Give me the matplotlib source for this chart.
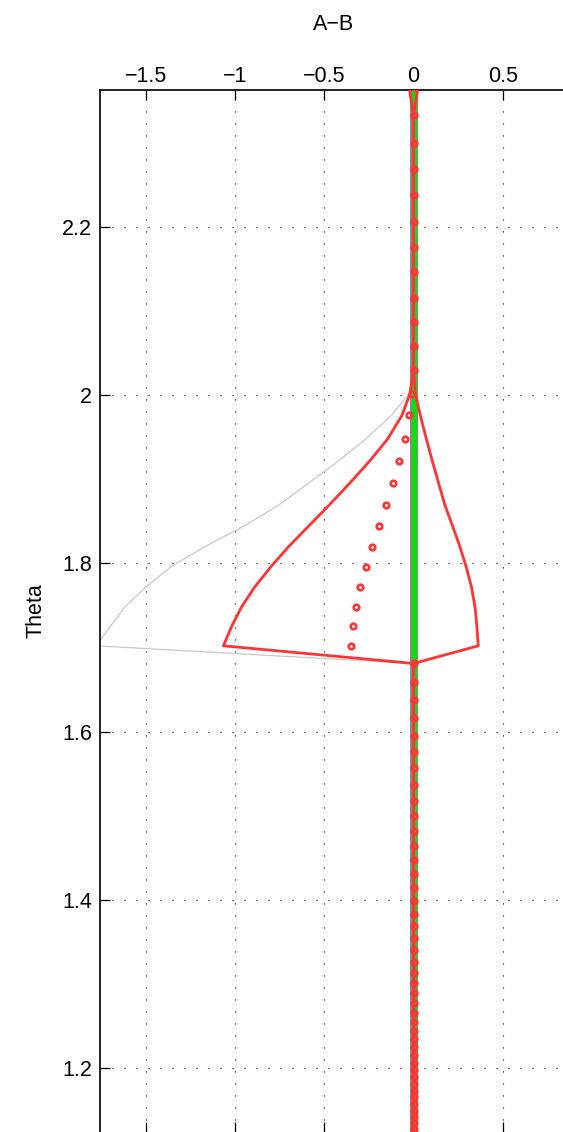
import matplotlib
matplotlib.use("Agg")
import matplotlib.pyplot as plt

plt.rcParams['font.family'] = ['Liberation Sans', 'DejaVu Sans']

# ---------------- data ----------------
theta = [2.366, 2.333, 2.300, 2.269, 2.238, 2.206, 2.176, 2.146, 2.116, 2.087,
         2.059, 2.030,
         2.002, 1.976, 1.948, 1.922, 1.896, 1.870, 1.845, 1.820, 1.796, 1.772,
         1.748, 1.725, 1.702,
         1.681, 1.659, 1.637, 1.616, 1.595, 1.576, 1.557, 1.537, 1.518, 1.500,
         1.482, 1.464, 1.447, 1.431, 1.414, 1.398, 1.383, 1.369, 1.354, 1.340,
         1.326, 1.313, 1.301, 1.289, 1.277, 1.265, 1.255, 1.244, 1.235, 1.225,
         1.216, 1.206, 1.198, 1.189, 1.181, 1.173, 1.165, 1.157, 1.149, 1.142,
         1.135, 1.128, 1.120, 1.113]

mean_ab = [0, 0, 0, 0, 0, 0, 0, 0, 0, 0, 0, 0,
           -0.007, -0.024, -0.048, -0.081, -0.117, -0.156, -0.195, -0.232,
           -0.268, -0.298, -0.322, -0.339, -0.350,
           0, 0, 0, 0, 0, 0, 0, 0, 0, 0, 0, 0, 0, 0, 0, 0, 0, 0, 0, 0, 0, 0,
           0, 0, 0, 0, 0, 0, 0, 0, 0, 0, 0, 0, 0, 0, 0, 0, 0, 0, 0, 0, 0, 0]

lower_ab = [-0.025, 0, 0, 0, 0, 0, 0, 0, 0, 0, 0, 0,
            -0.020, -0.065, -0.145, -0.245, -0.355, -0.470, -0.585, -0.700,
            -0.800, -0.890, -0.965, -1.020, -1.066,
            0, 0, 0, 0, 0, 0, 0, 0, 0, 0, 0, 0, 0, 0, 0, 0, 0, 0, 0, 0, 0, 0,
            0, 0, 0, 0, 0, 0, 0, 0, 0, 0, 0, 0, 0, 0, 0, 0, 0, 0, 0, 0, 0, 0]

upper_ab = [0.025, 0, 0, 0, 0, 0, 0, 0, 0, 0, 0, 0,
            0.010, 0.038, 0.072, 0.105, 0.140, 0.175, 0.218, 0.260,
            0.295, 0.325, 0.345, 0.355, 0.363,
            0, 0, 0, 0, 0, 0, 0, 0, 0, 0, 0, 0, 0, 0, 0, 0, 0, 0, 0, 0, 0, 0,
            0, 0, 0, 0, 0, 0, 0, 0, 0, 0, 0, 0, 0, 0, 0, 0, 0, 0, 0, 0, 0, 0]

sample_ab = [0.03, 0, 0, 0, 0, 0, 0, 0, 0, 0, 0, 0,
             -0.025, -0.124, -0.267, -0.420, -0.585, -0.752, -0.945, -1.170,
             -1.360, -1.500, -1.620, -1.700, -1.780,
             0, 0, 0, 0, 0, 0, 0, 0, 0, 0, 0, 0, 0, 0, 0, 0, 0, 0, 0, 0, 0, 0,
             0, 0, 0, 0, 0, 0, 0, 0, 0, 0, 0, 0, 0, 0, 0, 0, 0, 0, 0, 0, 0, 0]

reference_x = 0.0

xticks = [-1.5, -1.0, -0.5, 0.0, 0.5]
xticklabels = ['\u22121.5', '\u22121', '\u22120.5', '0', '0.5']
yticks = [1.2, 1.4, 1.6, 1.8, 2.0, 2.2]
yticklabels = ['1.2', '1.4', '1.6', '1.8', '2', '2.2']

# ---------------- figure ----------------
W, H = 563, 1132
fig = plt.figure(figsize=(W / 100, H / 100), dpi=100)
ax_left, ax_right, ax_top, ax_bottom = 100, 567.6, 90, 1132
ax = fig.add_axes([ax_left / W, 1 - ax_bottom / H,
                   (ax_right - ax_left) / W, (ax_bottom - ax_top) / H])

red = '#ff3333'
ax.axvline(reference_x, color='#8a8a8a', lw=5.8, zorder=2)
ax.plot(sample_ab, theta, color='#c8c8c8', lw=0.9, zorder=2.5)
ax.axvline(reference_x, color='#00e600', lw=3.6, zorder=3)
ax.plot(lower_ab, theta, color=red, lw=2.0, zorder=4)
ax.plot(upper_ab, theta, color=red, lw=2.0, zorder=4)
ax.plot(mean_ab, theta, linestyle='none', marker='o', ms=4.0, mew=1.9,
        mfc='none', mec=red, zorder=5)

ax.set_xlim(-1.758, 0.864)
ax.set_ylim(1.1239, 2.3629)

ax.set_xticks(xticks)
ax.set_xticklabels(xticklabels)
ax.set_yticks(yticks)
ax.set_yticklabels(yticklabels)

ax.tick_params(axis='x', which='both', direction='in', length=7.2, width=0.9,
               top=True, labeltop=True, bottom=True, labelbottom=False,
               labelsize=15.5, pad=1.8)
ax.tick_params(axis='y', which='both', direction='in', length=7.2, width=0.9,
               left=True, right=False, labelleft=True, labelright=False,
               labelsize=15.5, pad=5.5)

for side in ['right', 'bottom']:
    ax.spines[side].set_visible(False)
for side in ['left', 'top']:
    ax.spines[side].set_linewidth(1.2)

ax.set_axisbelow(True)
ax.grid(True, color='k', lw=0.8, linestyle=(0, (1, 9.8)))

fig.text(333.8 / W, 1 - 30 / H, 'A\u2212B', ha='center', va='baseline',
         fontsize=15.5)
fig.text(41.5 / W, 1 - 610.5 / H, 'Theta', rotation=90, rotation_mode='anchor',
         ha='center', va='baseline', fontsize=15.5)

fig.savefig('out.png', dpi=100)
